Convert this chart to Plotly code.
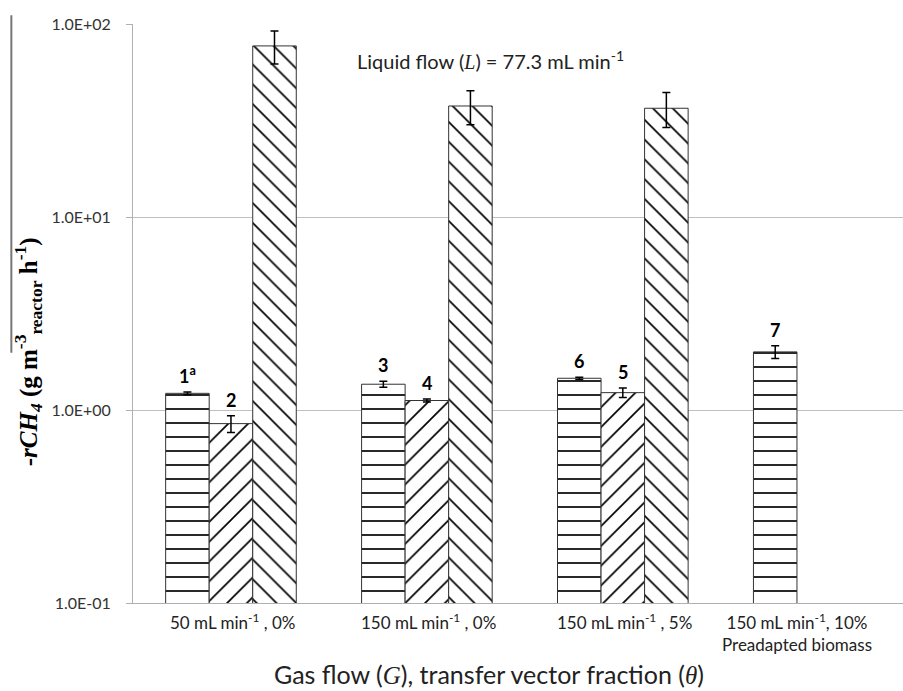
import math
import plotly.graph_objects as go

# ---- data ----
groups = ["50 mL min<sup>-1</sup> , 0%", "150 mL min<sup>-1</sup> , 0%",
          "150 mL min<sup>-1</sup> , 5%", "150 mL min<sup>-1</sup>, 10%<br>Preadapted biomass"]
vals_h = [1.22, 1.36, 1.46, 2.0]        # horizontal-line bars
err_h = [0.02, 0.05, 0.02, 0.15]
lab_h = ["1<sup>a</sup>", "3", "6", "7"]
vals_u = [0.85, 1.12, 1.23, None]       # rising-line bars
err_u = [0.085, 0.02, 0.07, None]
lab_u = ["2", "4", "5", None]
vals_d = [77.0, 37.6, 36.6, None]       # falling-line bars
err_d = [15.0, 7.5, 7.5, None]
yticks = [0.1, 1, 10, 100]
yticktext = ["1.0E-01", "1.0E+00", "1.0E+01", "1.0E+02"]

FONT = "Lato"
xpos = list(range(len(groups)))
bargap = 1/3
nser = 3
bw = (1 - bargap) / nser

fig = go.Figure()
series = [(vals_h, err_h, "-"), (vals_u, err_u, "/"), (vals_d, err_d, "\\")]
for v, e, shp in series:
    fig.add_trace(go.Bar(
        x=xpos, y=v,
        error_y=dict(type="data", array=e, visible=True, color="black", thickness=1.5, width=4),
        marker=dict(color="white", line=dict(color="#333333", width=1),
                    pattern=dict(shape=shp, fgcolor="black", bgcolor="white", size=14,
                                 solidity=0.12, fillmode="replace")),
        showlegend=False,
    ))

annotations = []
# bar number labels
for k, (labs, v, e) in enumerate([(lab_h, vals_h, err_h), (lab_u, vals_u, err_u)]):
    for i, lab in enumerate(labs):
        if lab is None:
            continue
        annotations.append(dict(x=xpos[i] + (k - 1) * bw, y=math.log10(v[i] + e[i]),
                                xref="x", yref="y", text="<b>" + lab + "</b>", showarrow=False,
                                yanchor="bottom", yshift=3,
                                font=dict(family=FONT, size=18, color="black")))
# category labels
for i, g in enumerate(groups):
    annotations.append(dict(x=xpos[i], y=0, xref="x", yref="paper", text=g, showarrow=False,
                            yanchor="top", yshift=-5, xshift=(-22 if i == len(groups) - 1 else 2),
                            font=dict(family=FONT, size=17, color="#222222")))
# liquid flow note
annotations.append(dict(x=0.288, y=0.938, xref="paper", yref="paper", xanchor="left", yanchor="middle",
                        text="Liquid flow (<span style='font-family:Liberation Serif'><i>L</i></span>) = 77.3 mL min<sup>-1</sup>",
                        showarrow=False, font=dict(family=FONT, size=20, color="#222222")))
# x axis title
annotations.append(dict(x=0.462, y=-0.1226, xref="paper", yref="paper", xanchor="center", yanchor="middle",
                        text="Gas flow (<span style='font-family:Liberation Serif'><i>G</i></span>), transfer vector fraction (<span style='font-family:Liberation Serif'><i>θ</i></span>)",
                        showarrow=False, font=dict(family=FONT, size=25, color="#222222")))
# y axis title
annotations.append(dict(x=-0.136, y=0.4335, xref="paper", yref="paper", xanchor="center", yanchor="middle",
                        textangle=-90,
                        text="<b>-<i>rCH</i><sub><i>4</i></sub> (g m<sup>-3</sup><sub>reactor</sub> h<sup>-1</sup>)</b>",
                        showarrow=False, font=dict(family="Liberation Serif", size=25, color="black")))

fig.update_layout(
    width=903, height=691,
    margin=dict(l=133, r=0, t=24, b=88),
    paper_bgcolor="white", plot_bgcolor="white",
    barmode="group", bargap=bargap, bargroupgap=0,
    annotations=annotations,
    shapes=[dict(type="line", xref="paper", yref="paper", x0=-0.158, x1=-0.158, y0=0.432, y1=1.015,
                 line=dict(color="#777777", width=2))],
    xaxis=dict(range=[-0.5, 3.43], showticklabels=False, showgrid=False, zeroline=False,
               showline=True, linecolor="#b0b0b0", linewidth=1, ticks=""),
    yaxis=dict(type="log", range=[-1, 2], tickvals=yticks, ticktext=yticktext,
               showgrid=True, gridcolor="#c0c0c0", gridwidth=1,
               showline=True, linecolor="#b0b0b0", linewidth=1,
               ticks="outside", ticklen=6, tickcolor="#b0b0b0", ticklabelstandoff=12,
               tickfont=dict(family=FONT, size=16, color="#333333"), zeroline=False),
)

fig.write_html("out.html")
